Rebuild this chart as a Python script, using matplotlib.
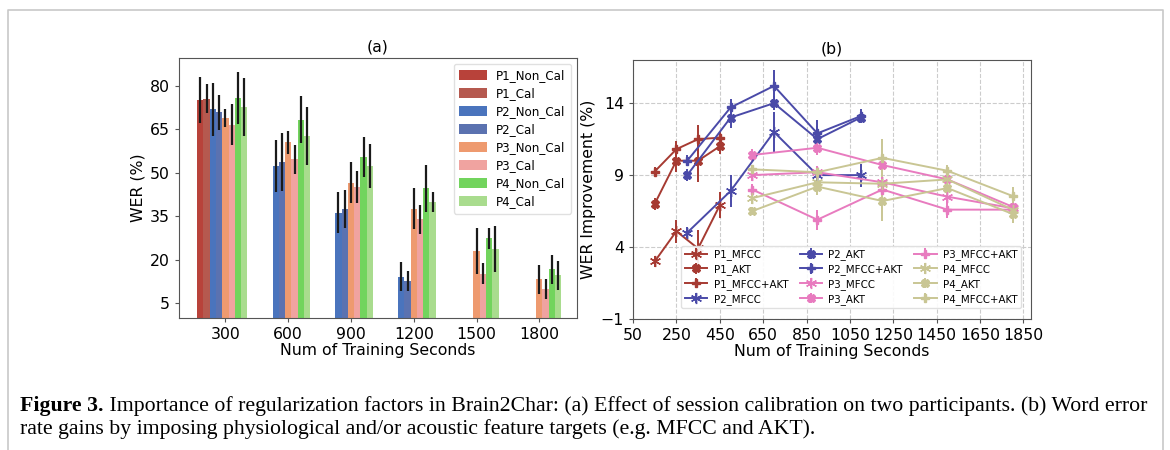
import matplotlib
matplotlib.use('Agg')
import matplotlib.pyplot as plt
import numpy as np
from matplotlib.lines import Line2D

# ---- panel (a) data ----
groups = ['300', '600', '900', '1200', '1500', '1800']
bar_names = ['P1_Non_Cal', 'P1_Cal', 'P2_Non_Cal', 'P2_Cal',
             'P3_Non_Cal', 'P3_Cal', 'P4_Non_Cal', 'P4_Cal']
bar_colors = ['#b8423a', '#b5594f', '#4a74bd', '#5b72b0',
              '#ee9a6f', '#f0a3a0', '#72d45d', '#a9dc8e']
nan = np.nan
wer = {
    'P1_Non_Cal': [75.0, nan, nan, nan, nan, nan],
    'P1_Cal':     [75.5, nan, nan, nan, nan, nan],
    'P2_Non_Cal': [71.8, 52.3, 36.3, 14.2, nan, nan],
    'P2_Cal':     [70.8, 53.7, 37.4, 12.8, nan, nan],
    'P3_Non_Cal': [68.9, 60.5, 46.6, 37.6, 23.1, 13.4],
    'P3_Cal':     [66.6, 54.6, 45.2, 34.0, 15.3, 9.9],
    'P4_Non_Cal': [75.8, 68.3, 55.4, 44.6, 27.4, 16.8],
    'P4_Cal':     [72.7, 62.8, 52.3, 39.9, 23.7, 14.7],
}
wer_err = {
    'P1_Non_Cal': [8.0, nan, nan, nan, nan, nan],
    'P1_Cal':     [5.0, nan, nan, nan, nan, nan],
    'P2_Non_Cal': [9.0, 9.0, 7.0, 5.0, nan, nan],
    'P2_Cal':     [6.0, 10.0, 6.5, 3.5, nan, nan],
    'P3_Non_Cal': [3.0, 4.0, 7.0, 7.0, 8.0, 5.0],
    'P3_Cal':     [7.0, 5.0, 5.5, 5.0, 3.5, 3.5],
    'P4_Non_Cal': [9.0, 8.0, 7.0, 8.0, 3.5, 5.0],
    'P4_Cal':     [10.0, 10.0, 7.5, 3.5, 8.0, 5.0],
}

# ---- panel (b) data ----
x_p1 = [150, 250, 350, 450]
x_p2 = [300, 500, 700, 900, 1100]
x_p34 = [600, 900, 1200, 1500, 1800]
line_series = [
    ('P1_MFCC', x_p1, [3.0, 5.1, 3.9, 6.9], [0.4, 0.8, 1.3, 0.9]),
    ('P1_AKT', x_p1, [7.0, 10.0, 10.0, 11.0], [0.4, 0.8, 1.5, 0.5]),
    ('P1_MFCC+AKT', x_p1, [9.25, 10.8, 11.5, 11.6], [0.3, 0.6, 1.0, 0.4]),
    ('P2_MFCC', x_p2, [5.0, 7.9, 12.0, 9.0, 9.0], [0.4, 1.1, 1.4, 0.3, 0.8]),
    ('P2_AKT', x_p2, [9.0, 13.0, 14.0, 11.5, 13.0], [0.4, 0.7, 0.5, 0.9, 0.4]),
    ('P2_MFCC+AKT', x_p2, [10.0, 13.7, 15.2, 11.9, 13.1], [0.4, 0.6, 1.1, 0.9, 0.5]),
    ('P3_MFCC', x_p34, [9.0, 9.2, 8.5, 7.5, 6.7], [0.4, 0.4, 0.4, 0.5, 0.3]),
    ('P3_AKT', x_p34, [10.4, 10.9, 9.7, 8.7, 6.8], [0.4, 0.5, 0.3, 0.3, 0.3]),
    ('P3_MFCC+AKT', x_p34, [8.0, 5.9, 8.0, 6.6, 6.6], [0.4, 0.7, 0.3, 0.6, 0.3]),
    ('P4_MFCC', x_p34, [7.4, 8.5, 8.4, 8.7, 6.6], [0.4, 0.3, 0.3, 0.3, 0.3]),
    ('P4_AKT', x_p34, [6.5, 8.2, 7.2, 8.1, 6.3], [0.3, 0.6, 1.4, 0.5, 0.6]),
    ('P4_MFCC+AKT', x_p34, [9.4, 9.2, 10.2, 9.3, 7.55], [0.3, 0.3, 1.3, 0.4, 0.6]),
]
part_colors = {'P1': '#a63a32', 'P2': '#4a4aa8', 'P3': '#e87bbf', 'P4': '#c9c694'}
feat_markers = {'MFCC': (6, 2, 0), 'AKT': 'X', 'MFCC+AKT': 'P'}
feat_msize = {'MFCC': 8, 'AKT': 6, 'MFCC+AKT': 6}

plt.rcParams['font.family'] = 'DejaVu Sans'
fig = plt.figure(figsize=(11.7, 4.5), dpi=100)

# page frame
fig.add_artist(Line2D([8 / 1170, 8 / 1170, 1163 / 1170, 1163 / 1170],
                      [0, 1 - 10 / 450, 1 - 10 / 450, 0],
                      color='#c8c8c8', lw=1.2))

fs = 11.3

# ---------------- panel (a) ----------------
ax1 = fig.add_axes([179 / 1170, 1 - 318 / 450, 398 / 1170, 260 / 450])
xpos = np.arange(len(groups))
w = 0.1
for j, name in enumerate(bar_names):
    ax1.bar(xpos + (j - 3.5) * w, wer[name], w, yerr=wer_err[name],
            color=bar_colors[j], label=name, ecolor='#1a1a1a',
            error_kw={'elinewidth': 1.6, 'capsize': 0})
ax1.set_xticks(xpos + 0.05)
ax1.set_xticklabels(groups)
ax1.set_yticks([5, 20, 35, 50, 65, 80])
ax1.tick_params(labelsize=fs, length=3, color='#555555')
ax1.set_xlim(-0.69, 5.65)
ax1.set_ylim(0, 89.5)
ax1.set_xlabel('Num of Training Seconds', fontsize=fs, labelpad=1)
ax1.set_ylabel('WER (%)', fontsize=fs, labelpad=3)
ax1.set_title('(a)', fontsize=fs, pad=5)
for s in ax1.spines.values():
    s.set_color('#555555')
ax1.legend(loc='upper right', fontsize=8.6, labelspacing=0.42,
           handlelength=2.3, handleheight=0.9, borderpad=0.45,
           framealpha=0.9, edgecolor='#dddddd')

# ---------------- panel (b) ----------------
ax2 = fig.add_axes([633 / 1170, 1 - 319 / 450, 398 / 1170, 259 / 450])
for name, xs, ys, es in line_series:
    part, feat = name.split('_', 1)
    ax2.errorbar(xs, ys, yerr=es, color=part_colors[part],
                 marker=feat_markers[feat], markersize=feat_msize[feat],
                 lw=1.4, elinewidth=1.4, capsize=0, label=name)
ax2.set_xlim(50, 1885)
ax2.set_ylim(-1, 17)
ax2.set_xticks(np.arange(50, 1851, 200))
ax2.set_yticks([-1, 4, 9, 14])
ax2.tick_params(labelsize=fs, length=3, color='#555555')
ax2.grid(True, ls='--', color='#cccccc', lw=0.8)
ax2.set_axisbelow(True)
ax2.set_xlabel('Num of Training Seconds', fontsize=fs, labelpad=1)
ax2.set_ylabel('WER Improvement (%)', fontsize=fs, labelpad=3)
ax2.set_title('(b)', fontsize=fs, pad=5)
for s in ax2.spines.values():
    s.set_color('#555555')
ax2.legend(loc='lower right', bbox_to_anchor=(0.988, 0.022), ncol=3,
           fontsize=7.4, labelspacing=0.38, handlelength=2.2,
           handletextpad=0.6, columnspacing=1.1, borderpad=0.35,
           framealpha=0.9, edgecolor='#dddddd')

# ---------------- caption ----------------
cap1 = (' Importance of regularization factors in Brain2Char: (a) Effect of session '
        'calibration on two participants. (b) Word error')
cap2 = 'rate gains by imposing physiological and/or acoustic feature targets (e.g. MFCC and AKT).'
fig.canvas.draw()
r = fig.canvas.get_renderer()
t0 = fig.text(20 / 1170, 1 - 411 / 450, 'Figure 3.', fontsize=15.7,
              family='Liberation Serif', weight='bold', va='baseline')
bb = t0.get_window_extent(renderer=r)
fig.text(bb.x1 / fig.bbox.width, 1 - 411 / 450, cap1, fontsize=15.7,
         family='Liberation Serif', va='baseline')
fig.text(20 / 1170, 1 - 434 / 450, cap2, fontsize=15.7,
         family='Liberation Serif', va='baseline')

fig.savefig('out.png', dpi=100)
